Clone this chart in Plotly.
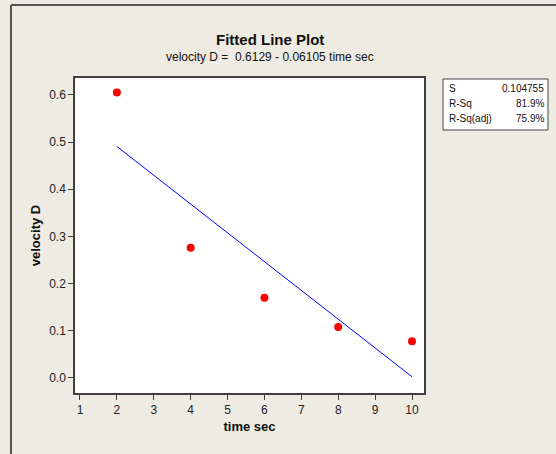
import plotly.graph_objects as go

time_sec = [2, 4, 6, 8, 10]
velocity_D = [0.605, 0.276, 0.170, 0.108, 0.078]
intercept = 0.6129
slope = -0.06105
fit_x = [2, 10]
fit_y = [intercept + slope * x for x in fit_x]
x_ticks = [1, 2, 3, 4, 5, 6, 7, 8, 9, 10]
y_ticks = [0.0, 0.1, 0.2, 0.3, 0.4, 0.5, 0.6]
stat_labels = ["S", "R-Sq", "R-Sq(adj)"]
stat_values = ["0.104755", "81.9%", "75.9%"]

W, H = 556, 454
L, R, T, B = 75, 424, 78, 393
FONT = "Liberation Sans Narrow, Arial Narrow, Liberation Sans, sans-serif"
BG = "#EEEBE2"

def px(x):
    return (x - L) / (R - L)

def py(y):
    return (B - y) / (B - T)

fig = go.Figure()
fig.add_trace(go.Scatter(x=fit_x, y=fit_y, mode="lines",
                         line=dict(color="#0000FF", width=1), showlegend=False))
fig.add_trace(go.Scatter(x=time_sec, y=velocity_D, mode="markers",
                         marker=dict(color="#FF0000", size=8), showlegend=False))

axis_common = dict(showgrid=False, zeroline=False, showline=True, linecolor="#404040",
                   linewidth=1.5, mirror=True, ticks="outside", ticklen=5,
                   tickcolor="#404040", tickfont=dict(family=FONT, size=12, color="#222"))
fig.update_xaxes(range=[0.865, 10.325], tickvals=x_ticks,
                 title=dict(text="<b>time sec</b>", font=dict(family=FONT, size=13, color="#111"), standoff=6),
                 **axis_common)
fig.update_yaxes(range=[-0.032, 0.636], tickvals=y_ticks, tickformat=".1f",
                 title=dict(text="<b>velocity D</b>", font=dict(family=FONT, size=13, color="#111"), standoff=6),
                 **axis_common)

shapes = [
    dict(type="line", xref="paper", yref="paper", x0=px(11), x1=px(11), y0=py(H), y1=py(5),
         line=dict(color="#555", width=2)),
    dict(type="line", xref="paper", yref="paper", x0=px(11), x1=px(W), y0=py(5), y1=py(5),
         line=dict(color="#555", width=2)),
    dict(type="rect", xref="paper", yref="paper", x0=px(443), x1=px(548), y0=py(130), y1=py(79),
         line=dict(color="#444", width=1), fillcolor="white"),
]

annotations = [
    dict(text="<b>Fitted Line Plot</b>", x=px(270), y=py(39), xref="paper", yref="paper",
         showarrow=False, font=dict(family=FONT, size=15, color="#111"), xanchor="center", yanchor="middle"),
    dict(text="velocity D =  0.6129 - 0.06105 time sec", x=px(270), y=py(57), xref="paper", yref="paper",
         showarrow=False, font=dict(family=FONT, size=12, color="#111"), xanchor="center", yanchor="middle"),
]
rows_y = [88, 103, 118]
for lab, val, yy in zip(stat_labels, stat_values, rows_y):
    annotations.append(dict(text=lab, x=px(447), y=py(yy), xref="paper", yref="paper", showarrow=False,
                            font=dict(family=FONT, size=10, color="#111"), xanchor="left", yanchor="middle"))
    annotations.append(dict(text=val, x=px(546), y=py(yy), xref="paper", yref="paper", showarrow=False,
                            font=dict(family=FONT, size=10, color="#111"), xanchor="right", yanchor="middle"))

fig.update_layout(width=W, height=H, margin=dict(l=L, r=W - R, t=T, b=H - B),
                  paper_bgcolor=BG, plot_bgcolor="white", shapes=shapes, annotations=annotations,
                  showlegend=False)
fig.write_html("out.html")
